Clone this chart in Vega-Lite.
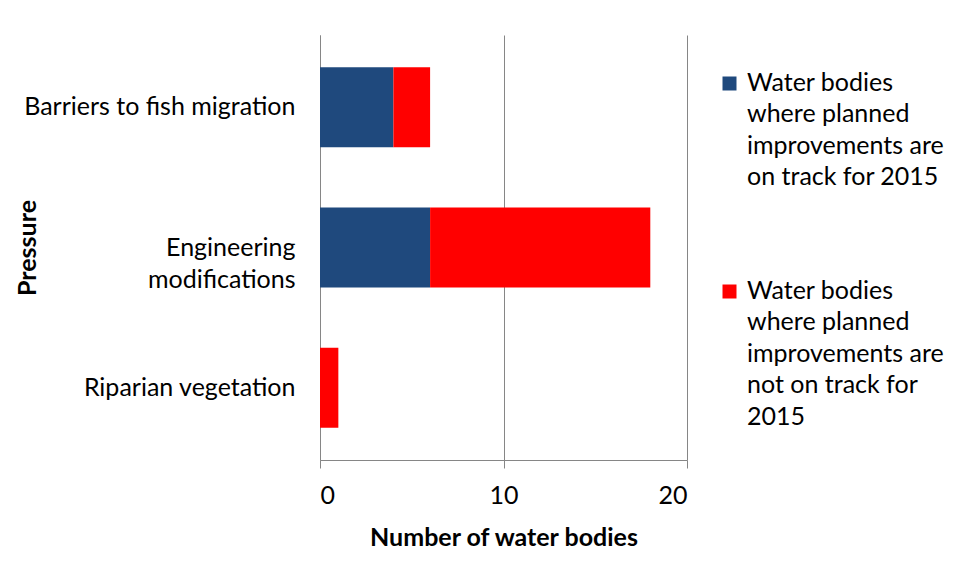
{
  "$schema": "https://vega.github.io/schema/vega-lite/v6.json",
  "width": 367,
  "height": 425,
  "autosize": {"type": "none"},
  "padding": {"left": 320, "top": 35, "right": 275, "bottom": 120},
  "background": "white",
  "config": {
    "font": "Lato",
    "view": {"stroke": null}
  },
  "data": {
    "values": [
      {"pressure": "Barriers to fish migration", "status": "On track", "count": 4},
      {"pressure": "Barriers to fish migration", "status": "Not on track", "count": 2},
      {"pressure": "Engineering modifications", "status": "On track", "count": 6},
      {"pressure": "Engineering modifications", "status": "Not on track", "count": 12},
      {"pressure": "Riparian vegetation", "status": "Not on track", "count": 1}
    ]
  },
  "mark": {"type": "bar"},
  "encoding": {
    "y": {
      "field": "pressure",
      "type": "nominal",
      "sort": ["Barriers to fish migration", "Engineering modifications", "Riparian vegetation"],
      "title": "Pressure",
      "scale": {"paddingInner": 0.43, "paddingOuter": 0.229},
      "axis": {
        "domain": true,
        "domainColor": "#868686",
        "ticks": false,
        "grid": false,
        "labelFontSize": 25,
        "labelColor": "#000000",
        "labelPadding": 25,
        "labelLineHeight": 32,
        "labelLimit": 400,
        "labelExpr": "datum.label == 'Engineering modifications' ? ['Engineering ', 'modifications'] : datum.label",
        "titleFontSize": 25,
        "titleFontWeight": "bold",
        "titleColor": "#000000",
        "titleX": -280
      }
    },
    "x": {
      "field": "count",
      "type": "quantitative",
      "stack": "zero",
      "scale": {"domain": [0, 20]},
      "title": "Number of water bodies",
      "axis": {
        "values": [0, 10, 20],
        "domainColor": "#868686",
        "tickColor": "#868686",
        "tickSize": 8,
        "gridColor": "#868686",
        "labelFontSize": 25,
        "labelColor": "#000000",
        "labelPadding": 15,
        "titleFontSize": 25,
        "titleFontWeight": "bold",
        "titleColor": "#000000",
        "titlePadding": 17
      }
    },
    "color": {
      "field": "status",
      "type": "nominal",
      "scale": {"domain": ["On track", "Not on track"], "range": ["#1f497d", "#ff0000"]},
      "legend": {
        "title": null,
        "orient": "none",
        "legendX": 397,
        "legendY": 36,
        "symbolType": "square",
        "symbolSize": 196,
        "symbolStrokeWidth": 0,
        "labelFontSize": 25,
        "labelColor": "#000000",
        "labelLimit": 400,
        "labelOffset": 5,
        "labelBaseline": "top",
        "rowPadding": 88,
        "labelExpr": "datum.label == 'On track' ? ['Water bodies', 'where planned', 'improvements are', 'on track for 2015'] : ['Water bodies', 'where planned', 'improvements are', 'not on track for', '2015']",
        "encode": {
          "labels": {"update": {"lineHeight": {"value": 31.5}, "dy": {"value": -13}}}
        }
      }
    },
    "order": {"field": "status", "sort": "descending"}
  }
}
